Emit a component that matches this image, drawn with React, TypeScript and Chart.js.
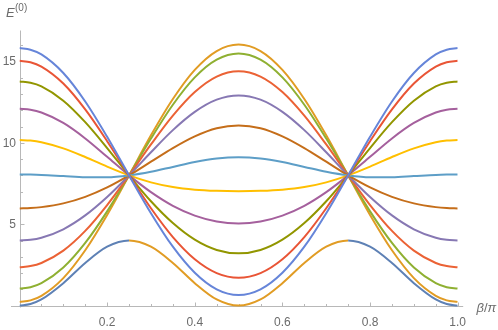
import { useEffect, useRef } from 'react';
import { Chart, registerables } from 'chart.js';

Chart.register(...registerables);

// beta/pi sample positions
const xValues = [0, 0.025, 0.05, 0.1, 0.15, 0.2, 0.25, 0.3, 0.35, 0.4, 0.45, 0.5, 0.55, 0.6, 0.65, 0.7, 0.75, 0.8, 0.85, 0.9, 0.95, 0.975, 1];

// crossing curves (pass through 8 at 0.25 and 0.75)
const seriesOrange = [0.23, 0.32, 0.6, 1.69, 3.4, 5.57, 8, 10.46, 12.69, 14.48, 15.64, 16.04, 15.64, 14.48, 12.69, 10.46, 8, 5.57, 3.4, 1.69, 0.6, 0.32, 0.23];
const seriesGreen = [1.05, 1.13, 1.38, 2.34, 3.85, 5.79, 8, 10.26, 12.34, 14.02, 15.11, 15.49, 15.11, 14.02, 12.34, 10.26, 8, 5.79, 3.85, 2.34, 1.38, 1.13, 1.05];
const seriesRed = [2.36, 2.43, 2.62, 3.38, 4.59, 6.18, 8, 9.9, 11.67, 13.12, 14.07, 14.4, 14.07, 13.12, 11.67, 9.9, 8, 6.18, 4.59, 3.38, 2.62, 2.43, 2.36];
const seriesPurple = [4.0, 4.04, 4.17, 4.69, 5.54, 6.67, 8, 9.42, 10.78, 11.9, 12.65, 12.91, 12.65, 11.9, 10.78, 9.42, 8, 6.67, 5.54, 4.69, 4.17, 4.04, 4.0];
const seriesBrown = [5.97, 5.99, 6.05, 6.28, 6.68, 7.26, 8, 8.84, 9.68, 10.4, 10.9, 11.07, 10.9, 10.4, 9.68, 8.84, 8, 7.26, 6.68, 6.28, 6.05, 5.99, 5.97];
const seriesLightBlue = [8.06, 8.05, 8.03, 7.96, 7.89, 7.89, 8, 8.22, 8.52, 8.82, 9.04, 9.12, 9.04, 8.82, 8.52, 8.22, 8, 7.89, 7.89, 7.96, 8.03, 8.05, 8.06];
const seriesYellow = [10.17, 10.14, 10.04, 9.66, 9.13, 8.54, 8, 7.57, 7.28, 7.12, 7.05, 7.03, 7.05, 7.12, 7.28, 7.57, 8, 8.54, 9.13, 9.66, 10.04, 10.14, 10.17];
const seriesMagenta = [12.09, 12.03, 11.86, 11.22, 10.27, 9.14, 8, 6.97, 6.13, 5.53, 5.17, 5.05, 5.17, 5.53, 6.13, 6.97, 8, 9.14, 10.27, 11.22, 11.86, 12.03, 12.09];
const seriesOlive = [13.77, 13.69, 13.47, 12.59, 11.27, 9.68, 8, 6.41, 5.07, 4.05, 3.42, 3.21, 3.42, 4.05, 5.07, 6.41, 8, 9.68, 11.27, 12.59, 13.47, 13.69, 13.77];
const seriesRed2 = [15.04, 14.95, 14.68, 13.64, 12.05, 10.1, 8, 5.98, 4.21, 2.85, 2.0, 1.71, 2.0, 2.85, 4.21, 5.98, 8, 10.1, 12.05, 13.64, 14.68, 14.95, 15.04];
const seriesBlue2 = [15.82, 15.72, 15.43, 14.29, 12.54, 10.37, 8, 5.68, 3.62, 2.02, 1.0, 0.65, 1.0, 2.02, 3.62, 5.68, 8, 10.37, 12.54, 14.29, 15.43, 15.72, 15.82];

// lowest curve (bump): blue outside [0.25, 0.75], orange inside
const seriesBump = [0, 0.1, 0.38, 1.38, 2.62, 3.62, 4, 3.62, 2.62, 1.38, 0.38, 0, 0.38, 1.38, 2.62, 3.62, 4, 3.62, 2.62, 1.38, 0.38, 0.1, 0];
const bumpInnerRange = [0.25, 0.75];

// axis ticks
const xMajorTicks = [0.2, 0.4, 0.6, 0.8, 1.0];
const xTickLabels = ['0.2', '0.4', '0.6', '0.8', '1.0'];
const xMinorTicks = [0.05, 0.1, 0.15, 0.25, 0.3, 0.35, 0.45, 0.5, 0.55, 0.65, 0.7, 0.75, 0.85, 0.9, 0.95];
const yMajorTicks = [5, 10, 15];
const yTickLabels = ['5', '10', '15'];
const yMinorTicks = [1, 2, 3, 4, 6, 7, 8, 9, 11, 12, 13, 14, 16];

const BUMP_OUTER = '#5E81B5';
const BUMP_INNER = '#E19C24';

const curves: { data: number[]; color: string; bump?: boolean }[] = [
  { data: seriesBump, color: BUMP_OUTER, bump: true },
  { data: seriesOrange, color: '#E19C24' },
  { data: seriesGreen, color: '#8FB032' },
  { data: seriesRed, color: '#EB6235' },
  { data: seriesPurple, color: '#8778B3' },
  { data: seriesBrown, color: '#C56E1A' },
  { data: seriesLightBlue, color: '#5D9EC7' },
  { data: seriesYellow, color: '#FFBF00' },
  { data: seriesMagenta, color: '#A5609D' },
  { data: seriesOlive, color: '#929600' },
  { data: seriesRed2, color: '#E95536' },
  { data: seriesBlue2, color: '#6685D9' },
];

const AXIS = '#b8b8b8';
const LABEL = '#6b6b6b';
const FONT = '"Liberation Sans", Arial, sans-serif';

const axesPlugin = {
  id: 'mmaAxes',
  beforeDatasetsDraw(chart: any) {
    const ctx = chart.ctx as CanvasRenderingContext2D;
    const sx = chart.scales.x;
    const sy = chart.scales.y;
    const x0 = Math.round(sx.getPixelForValue(0)) + 0.5;
    const y0 = Math.round(sy.getPixelForValue(0)) + 0.5;
    ctx.save();
    ctx.strokeStyle = AXIS;
    ctx.lineWidth = 1;
    ctx.beginPath();
    ctx.moveTo(x0 - 9.5, y0);
    ctx.lineTo(sx.getPixelForValue(1) + 5.5, y0);
    ctx.moveTo(x0, sy.getPixelForValue(16.9));
    ctx.lineTo(x0, y0 + 1);
    ctx.stroke();

    ctx.beginPath();
    xMajorTicks.forEach((v) => {
      const p = Math.round(sx.getPixelForValue(v)) + 0.5;
      ctx.moveTo(p, y0);
      ctx.lineTo(p, y0 - 4);
    });
    xMinorTicks.forEach((v) => {
      const p = Math.round(sx.getPixelForValue(v)) + 0.5;
      ctx.moveTo(p, y0);
      ctx.lineTo(p, y0 - 2.5);
    });
    yMajorTicks.forEach((v) => {
      const p = Math.round(sy.getPixelForValue(v)) + 0.5;
      ctx.moveTo(x0, p);
      ctx.lineTo(x0 + 4, p);
    });
    yMinorTicks.forEach((v) => {
      const p = Math.round(sy.getPixelForValue(v)) + 0.5;
      ctx.moveTo(x0, p);
      ctx.lineTo(x0 + 2.5, p);
    });
    ctx.stroke();

    ctx.fillStyle = LABEL;
    ctx.font = `12px ${FONT}`;
    ctx.textAlign = 'center';
    ctx.textBaseline = 'middle';
    xMajorTicks.forEach((v, i) => {
      ctx.fillText(xTickLabels[i], sx.getPixelForValue(v), y0 + 16);
    });
    ctx.textAlign = 'right';
    yMajorTicks.forEach((v, i) => {
      ctx.fillText(yTickLabels[i], x0 - 4.5, sy.getPixelForValue(v) + 0.5);
    });

    // axis labels
    ctx.textAlign = 'left';
    ctx.textBaseline = 'alphabetic';
    ctx.font = `italic 13px ${FONT}`;
    ctx.fillText('E', 6, 16.5);
    ctx.font = `10px ${FONT}`;
    ctx.fillText('(0)', 15, 10.5);

    ctx.textBaseline = 'middle';
    ctx.font = `italic 13px ${FONT}`;
    const bx = 476.5;
    ctx.fillText('β', bx, y0 + 2);
    const bw = ctx.measureText('β').width;
    ctx.font = `13px ${FONT}`;
    ctx.fillText('/', bx + bw, y0 + 2);
    const sw = ctx.measureText('/').width;
    ctx.font = `italic 13px ${FONT}`;
    ctx.fillText('π', bx + bw + sw, y0 + 2);
    ctx.restore();
  },
};

export default function App() {
  const canvasRef = useRef<HTMLCanvasElement | null>(null);

  useEffect(() => {
    const canvas = canvasRef.current;
    if (!canvas) return;
    const n = curves.length;
    const chart = new Chart(canvas, {
      type: 'line',
      data: {
        datasets: curves.map((c, i) => ({
          data: xValues.map((x, k) => ({ x, y: c.data[k] })),
          borderColor: c.color,
          backgroundColor: c.color,
          borderWidth: 2,
          pointRadius: 0,
          fill: false,
          cubicInterpolationMode: 'monotone' as const,
          order: n - i,
          segment: c.bump
            ? {
                borderColor: (s: any) =>
                  s.p0.parsed.x >= bumpInnerRange[0] - 1e-9 && s.p1.parsed.x <= bumpInnerRange[1] + 1e-9
                    ? BUMP_INNER
                    : BUMP_OUTER,
              }
            : undefined,
        })),
      },
      options: {
        responsive: false,
        animation: false,
        devicePixelRatio: 1,
        events: [],
        layout: { padding: { left: 19.5, right: 40.3, top: 30.5, bottom: 19.5 } },
        plugins: { legend: { display: false }, tooltip: { enabled: false } },
        scales: {
          x: { type: 'linear', min: 0, max: 1, display: false },
          y: { type: 'linear', min: -0.3, max: 16.9, display: false },
        },
      },
      plugins: [axesPlugin],
    } as any);
    return () => chart.destroy();
  }, []);

  return (
    <div style={{ position: 'absolute', left: 0, top: 0, width: 498, height: 330, background: '#fff' }}>
      <canvas ref={canvasRef} width={498} height={330} style={{ display: 'block' }} />
    </div>
  );
}
